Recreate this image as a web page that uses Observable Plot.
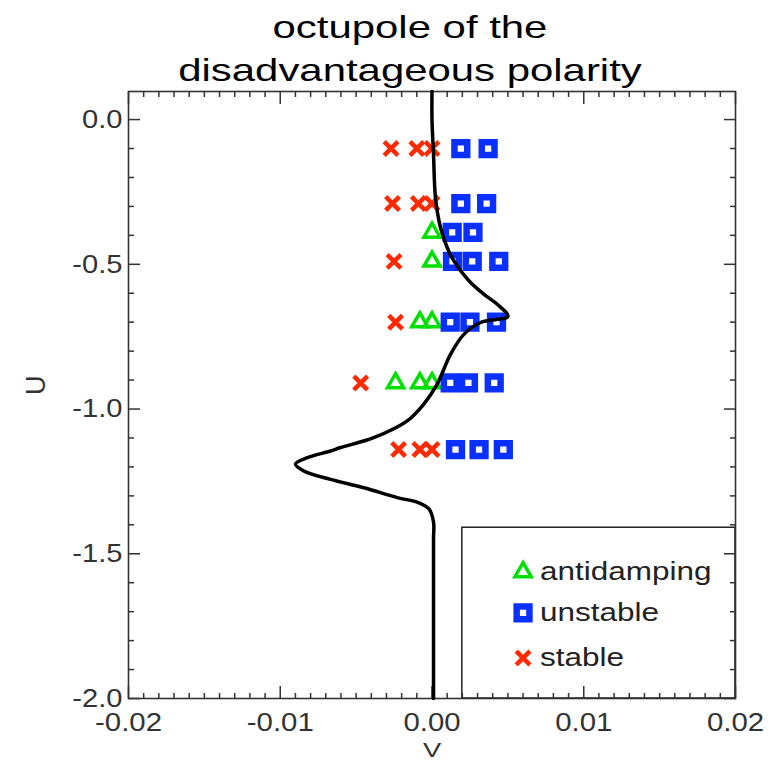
<!DOCTYPE html>
<html>
<head>
<meta charset="utf-8">
<script src="https://cdn.jsdelivr.net/npm/d3@7"></script>
<script src="https://cdn.jsdelivr.net/npm/@observablehq/plot@0.6"></script>
<style>
  body { margin: 0; background: #fff; }
  #wrap { position: relative; width: 776px; height: 762px; overflow: hidden; background: #fff; }
  #title {
    position: absolute; left: 0; top: 5.6px; width: 820px;
    text-align: center; color: #000;
    font-family: "Liberation Sans", Arial, sans-serif;
    font-size: 31.5px; line-height: 43px;
    transform: scaleX(1.33); transform-origin: 410px 0;
    white-space: nowrap;
  }
  #chart { position: absolute; left: 0; top: 88px; }
</style>
</head>
<body>
<div id="wrap">
  <div id="title">octupole of the<br>disadvantageous polarity</div>
  <div id="chart"></div>
</div>
<script>
// Axis ticks and their printed labels
const xTicks = [-0.02, -0.01, 0.0, 0.01, 0.02];
const xTickLabels = ["-0.02", "-0.01", "0.00", "0.01", "0.02"];
const yTicks = [0.0, -0.5, -1.0, -1.5, -2.0];
const yTickLabels = ["0.0", "-0.5", "-1.0", "-1.5", "-2.0"];

// Stability boundary in the (V, U) plane
const curveU = [0.097, 0.0, -0.12, -0.27, -0.373, -0.442, -0.488, -0.557, -0.603, -0.638, -0.68,
  -0.701, -0.742, -0.811, -0.914, -0.983, -1.041, -1.099, -1.133, -1.145, -1.168, -1.19,
  -1.214, -1.243, -1.272, -1.306, -1.323, -1.345, -1.39, -1.45, -2.0];
const curveV = [0.0, 0.0, 0.0001, 0.00023, 0.00056, 0.001, 0.00144, 0.00243, 0.00341, 0.0043, 0.005,
  0.0032, 0.0021, 0.00122, 0.00034, -0.00054, -0.00163, -0.00384, -0.00603, -0.00669, -0.00822, -0.009,
  -0.00845, -0.00669, -0.00449, -0.00229, -0.0009, -0.0002, 0.0001, 0.0001, 0.0001];

// Simulation outcomes
const stableU = [-0.1, -0.1, -0.1, -0.29, -0.29, -0.29, -0.49, -0.7, -0.91, -1.14, -1.14, -1.14];
const stableV = [-0.0027, -0.001, 0.0, -0.0026, -0.0009, 0.0, -0.0025, -0.0024, -0.0047, -0.0022, -0.0008, 0.0];

const unstableU = [-0.1, -0.1, -0.29, -0.29, -0.39, -0.39, -0.49, -0.49, -0.49,
  -0.7, -0.7, -0.7, -0.91, -0.91, -0.91, -1.14, -1.14, -1.14];
const unstableV = [0.0019, 0.0037, 0.0019, 0.0036, 0.00133, 0.0027, 0.00135, 0.00265, 0.0044,
  0.0012, 0.0025, 0.00425, 0.0012, 0.0024, 0.0041, 0.00155, 0.0031, 0.0047];

const antidampingU = [-0.39, -0.49, -0.7, -0.7, -0.91, -0.91, -0.91];
const antidampingV = [0.0, 0.0, -0.0008, 0.0, -0.0024, -0.0008, 0.0];

// Legend entries
const legendNames = ["antidamping", "unstable", "stable"];

const GREEN = "#00e000", BLUE = "#0a30ff", RED = "#ff2a00";

const zip = (V, U) => V.map((v, i) => ({v, u: U[i]}));
const curve = zip(curveV, curveU);
const stable = zip(stableV, stableU);
const unstable = zip(unstableV, unstableU);
const antidamping = zip(antidampingV, antidampingU);

const xMinor = d3.range(-20, 21).filter(k => k % 10 !== 0).map(k => k / 1000);
const yMinor = d3.range(-20, 1).filter(k => k % 5 !== 0).map(k => k / 10);

// Legend placement inside the lower-right box (data space)
const legendX = 0.006;
const legendRows = [-1.563, -1.704, -1.86];
const legendBox = [{x1: 0.002, x2: 0.02, y1: -2.0, y2: -1.41}];
const legend = legendNames.map((name, i) => ({name, u: legendRows[i]}));

const AX = "#333";
const fmtX = d => xTickLabels[xTicks.findIndex(t => Math.abs(t - d) < 1e-9)];
const fmtY = d => yTickLabels[yTicks.findIndex(t => Math.abs(t - d) < 1e-9)];

const plot = Plot.plot({
  width: 776,
  height: 674,
  marginLeft: 128,
  marginRight: 41,
  marginTop: 3,
  marginBottom: 64,
  x: {domain: [-0.02, 0.02]},
  y: {domain: [-2.0, 0.097]},
  style: {fontFamily: "'Liberation Sans', Arial, sans-serif", fontSize: "26px", color: AX, background: "white", overflow: "visible"},
  marks: [
    // legend box
    Plot.rect(legendBox, {x1: "x1", x2: "x2", y1: "y1", y2: "y2", fill: "white", stroke: "#111", strokeWidth: 1.4}),

    // inward tick marks on all four sides
    Plot.axisX({anchor: "bottom", ticks: xMinor, tickSize: -5, tickFormat: () => "", label: null, stroke: AX, strokeWidth: 1.5}),
    Plot.axisX({anchor: "bottom", ticks: xTicks, tickSize: -12, tickPadding: 26, tickFormat: fmtX, label: null, stroke: AX, strokeWidth: 1.5}),
    Plot.axisX({anchor: "top", ticks: xMinor, tickSize: -5, tickFormat: () => "", label: null, stroke: AX, strokeWidth: 1.5}),
    Plot.axisX({anchor: "top", ticks: xTicks, tickSize: -12, tickFormat: () => "", label: null, stroke: AX, strokeWidth: 1.5}),
    Plot.axisY({anchor: "left", ticks: yMinor, tickSize: -6, tickFormat: () => "", label: null, stroke: AX, strokeWidth: 1.5}),
    Plot.axisY({anchor: "left", ticks: yTicks, tickSize: -12, tickPadding: 18, tickFormat: fmtY, label: null, stroke: AX, strokeWidth: 1.5}),
    Plot.axisY({anchor: "right", ticks: yMinor, tickSize: -6, tickFormat: () => "", label: null, stroke: AX, strokeWidth: 1.5}),
    Plot.axisY({anchor: "right", ticks: yTicks, tickSize: -12, tickFormat: () => "", label: null, stroke: AX, strokeWidth: 1.5}),
    Plot.frame({stroke: AX, strokeWidth: 1.6}),

    // axis titles
    Plot.text(["V"], {frameAnchor: "bottom", dy: 44, lineAnchor: "top", fill: AX, fontSize: 21}),
    Plot.text(["U"], {frameAnchor: "left", dx: -92, rotate: -90, fill: AX, fontSize: 27}),

    // simulation points
    Plot.dot(stable, {x: "v", y: "u", symbol: "times", r: 6.3, stroke: RED, strokeWidth: 4.5}),
    Plot.dot(antidamping, {x: "v", y: "u", symbol: "triangle", r: 6, stroke: GREEN, strokeWidth: 3.5, fill: "none"}),
    Plot.dot(unstable, {x: "v", y: "u", symbol: "square", r: 7.2, stroke: BLUE, strokeWidth: 6.5, fill: "white"}),

    // boundary curve
    Plot.line(curve, {x: "v", y: "u", curve: "catmull-rom", stroke: "#000", strokeWidth: 3.5}),

    // legend
    Plot.dot(legend.slice(0, 1), {x: () => legendX, y: "u", symbol: "triangle", r: 6, stroke: GREEN, strokeWidth: 3.5, fill: "none"}),
    Plot.dot(legend.slice(1, 2), {x: () => legendX, y: "u", symbol: "square", r: 7.2, stroke: BLUE, strokeWidth: 6.5, fill: "white"}),
    Plot.dot(legend.slice(2, 3), {x: () => legendX, y: "u", symbol: "times", r: 6.3, stroke: RED, strokeWidth: 4.5}),
    Plot.text(legend, {x: () => legendX, y: "u", text: "name", dx: 17, textAnchor: "start", fill: "#222", fontSize: 26})
  ]
});

document.getElementById("chart").appendChild(plot);

// widen the glyphs a little, as in the original rendering
const widen = new Map([
  ...xTickLabels.map(s => [s, 1.13]),
  ...yTickLabels.map(s => [s, 1.12]),
  ...legendNames.map(s => [s, 1.21]),
  ["V", 1.3]
]);
plot.querySelectorAll("text").forEach(t => {
  const k = widen.get(t.textContent);
  if (!k) return;
  const w = t.getComputedTextLength();
  if (w > 0) {
    t.setAttribute("textLength", (w * k).toFixed(1));
    t.setAttribute("lengthAdjust", "spacingAndGlyphs");
  }
});
</script>
</body>
</html>
